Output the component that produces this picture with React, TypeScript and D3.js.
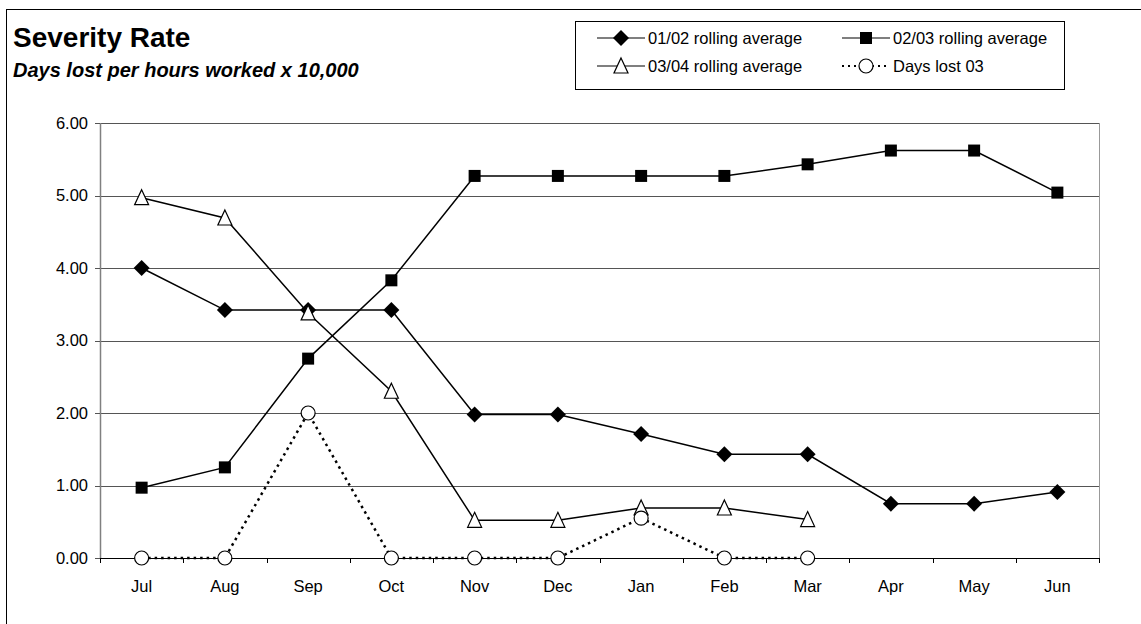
import React from "react";
import * as d3 from "d3";

const months = ["Jul", "Aug", "Sep", "Oct", "Nov", "Dec", "Jan", "Feb", "Mar", "Apr", "May", "Jun"];
const avg0102 = [4.0, 3.42, 3.42, 3.42, 1.98, 1.98, 1.71, 1.43, 1.43, 0.75, 0.75, 0.91];
const avg0203 = [0.97, 1.25, 2.75, 3.83, 5.27, 5.27, 5.27, 5.27, 5.43, 5.62, 5.62, 5.04];
const avg0304 = [4.97, 4.69, 3.38, 2.3, 0.52, 0.52, 0.69, 0.69, 0.53];
const daysLost03 = [0, 0, 2.0, 0, 0, 0, 0.55, 0, 0];
const yTicks = [0, 1, 2, 3, 4, 5, 6];

const FONT = "'Liberation Sans', Arial, Helvetica, sans-serif";

type Marker = "diamond" | "square" | "triangle" | "circle";

function MarkerShape({ type, x, y }: { type: Marker; x: number; y: number }) {
  if (type === "diamond") {
    const r = 8;
    return <path d={`M${x},${y - r}L${x + r},${y}L${x},${y + r}L${x - r},${y}Z`} fill="#000" />;
  }
  if (type === "square") {
    const s = 12;
    return <rect x={x - s / 2} y={y - s / 2} width={s} height={s} fill="#000" />;
  }
  if (type === "triangle") {
    const h = 14;
    const w = 14;
    return (
      <path
        d={`M${x},${y - h / 2 - 1}L${x + w / 2},${y + h / 2}L${x - w / 2},${y + h / 2}Z`}
        fill="#fff"
        stroke="#000"
        strokeWidth={1.2}
      />
    );
  }
  return <circle cx={x} cy={y} r={7} fill="#fff" stroke="#000" strokeWidth={1.2} />;
}

export default function App() {
  const W = 1141;
  const H = 624;
  const left = 100;
  const right = 1099;
  const top = 123;
  const bottom = 558;

  const x = d3.scaleBand<string>().domain(months).range([left, right]);
  const cx = (m: string) => (x(m) as number) + x.bandwidth() / 2;
  const y = d3.scaleLinear().domain([0, 6]).range([bottom, top]);

  const line = d3
    .line<number>()
    .x((_, i) => cx(months[i]))
    .y((d) => y(d));

  const series: { name: string; data: number[]; marker: Marker; dash?: string; width: number }[] = [
    { name: "01/02 rolling average", data: avg0102, marker: "diamond", width: 1.5 },
    { name: "02/03 rolling average", data: avg0203, marker: "square", width: 1.5 },
    { name: "03/04 rolling average", data: avg0304, marker: "triangle", width: 1.5 },
    { name: "Days lost 03", data: daysLost03, marker: "circle", dash: "2.5 4", width: 2.5 },
  ];

  const boundaries = months.map((m) => x(m) as number).concat([right]);

  const legendItems = [
    { s: series[0], lx: 597, ly: 38 },
    { s: series[1], lx: 842, ly: 38 },
    { s: series[2], lx: 597, ly: 66 },
    { s: series[3], lx: 842, ly: 66 },
  ];

  return (
    <svg
      width={W}
      height={H}
      style={{ position: "absolute", left: 0, top: 0, background: "#fff" }}
      fontFamily={FONT}
    >
      <rect x={0} y={0} width={W} height={H} fill="#fff" />
      {/* outer frame */}
      <rect x={6.5} y={9.5} width={W + 20} height={H + 20} fill="none" stroke="#000" strokeWidth={1} />

      {/* titles */}
      <text x={13} y={47} fontSize={28} fontWeight="bold" fill="#000">
        Severity Rate
      </text>
      <text x={13} y={77} fontSize={20} fontWeight="bold" fontStyle="italic" fill="#000">
        Days lost per hours worked x 10,000
      </text>

      {/* gridlines */}
      {yTicks.map((t) => (
        <line key={t} x1={left} x2={right} y1={Math.round(y(t)) + 0.5} y2={Math.round(y(t)) + 0.5} stroke="#555" strokeWidth={1} />
      ))}
      {/* right border of plot */}
      <line x1={right + 0.5} x2={right + 0.5} y1={top} y2={bottom} stroke="#999" strokeWidth={1} />
      {/* y axis */}
      <line x1={left + 0.5} x2={left + 0.5} y1={top} y2={bottom + 1} stroke="#808080" strokeWidth={1.5} />
      {yTicks.map((t) => (
        <g key={"yt" + t}>
          <line x1={left - 5} x2={left} y1={Math.round(y(t)) + 0.5} y2={Math.round(y(t)) + 0.5} stroke="#555" />
          <text x={88} y={y(t)} dy="0.35em" textAnchor="end" fontSize={16.5} fill="#000">
            {t.toFixed(2)}
          </text>
        </g>
      ))}
      {/* x axis */}
      <line x1={left} x2={right} y1={bottom + 0.5} y2={bottom + 0.5} stroke="#000" strokeWidth={1} />
      {boundaries.map((b, i) => (
        <line key={"xt" + i} x1={Math.round(b) + 0.5} x2={Math.round(b) + 0.5} y1={bottom} y2={bottom + 5} stroke="#000" />
      ))}
      {months.map((m) => (
        <text key={m} x={cx(m)} y={592} textAnchor="middle" fontSize={16.5} fill="#000">
          {m}
        </text>
      ))}

      {/* series */}
      {series.map((s) => (
        <g key={s.name}>
          <path
            d={line(s.data) || ""}
            fill="none"
            stroke="#000"
            strokeWidth={s.width}
            strokeDasharray={s.dash}
          />
          {s.data.map((v, i) => (
            <MarkerShape key={i} type={s.marker} x={cx(months[i])} y={y(v)} />
          ))}
        </g>
      ))}

      {/* legend */}
      <rect x={575.5} y={21.5} width={489} height={68} fill="#fff" stroke="#000" strokeWidth={1} />
      {legendItems.map(({ s, lx, ly }) => (
        <g key={"lg" + s.name}>
          <line
            x1={lx}
            x2={lx + 48}
            y1={ly}
            y2={ly}
            stroke="#000"
            strokeWidth={s.dash ? 2 : 1.2}
            strokeDasharray={s.dash ? "2 4" : undefined}
          />
          <MarkerShape type={s.marker} x={lx + 24} y={ly} />
          <text x={lx + 51} y={ly} dy="0.35em" fontSize={16.5} fill="#000">
            {s.name}
          </text>
        </g>
      ))}
    </svg>
  );
}
